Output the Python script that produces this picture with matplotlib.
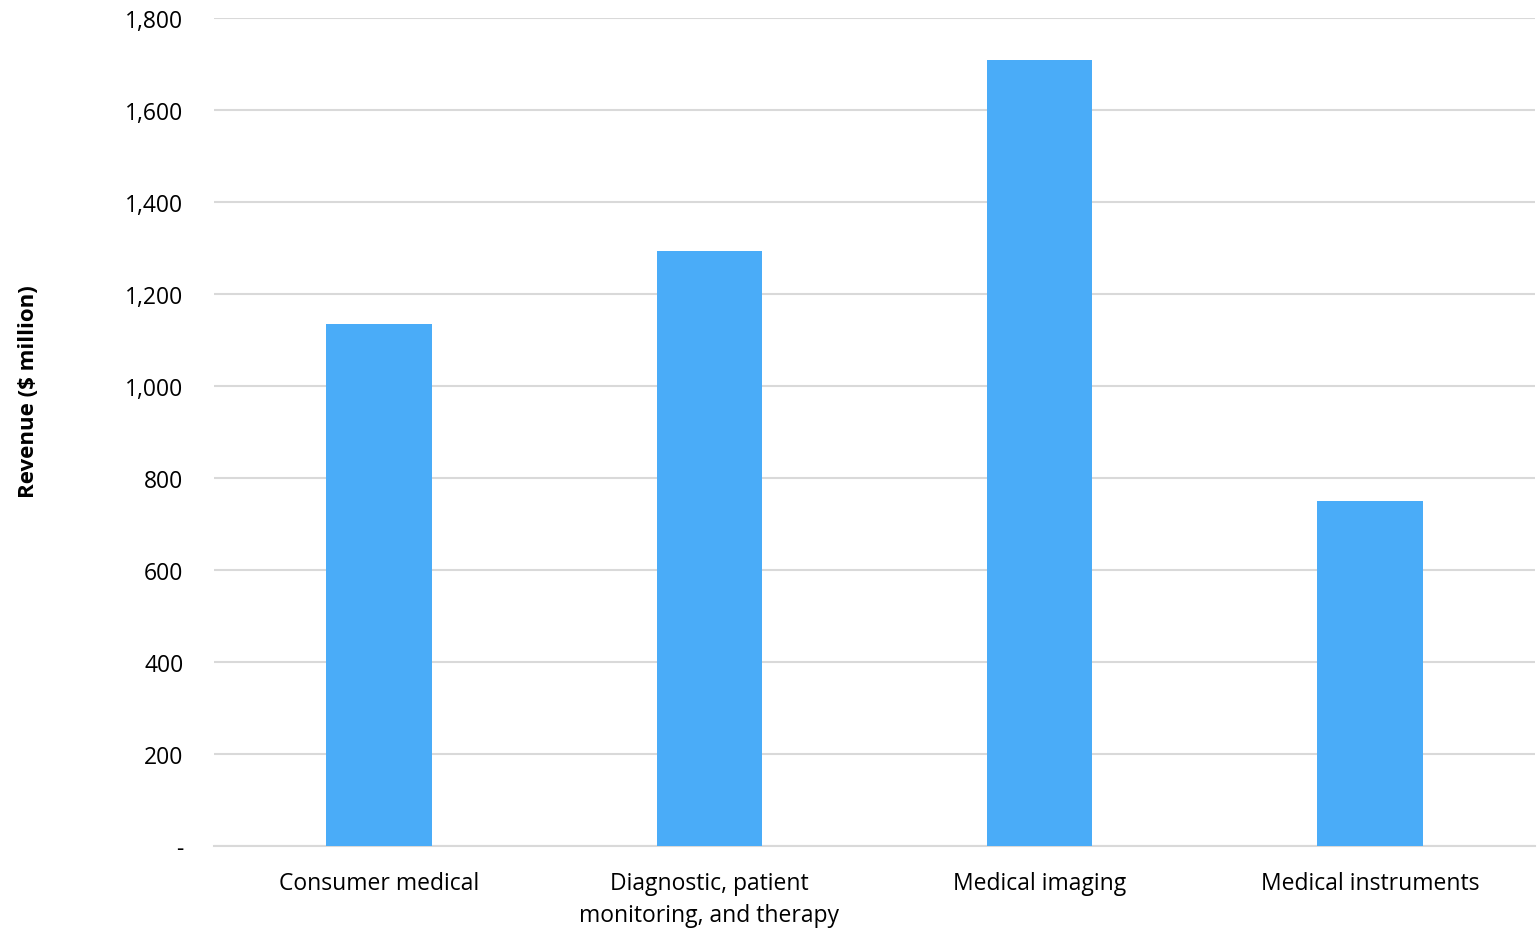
import matplotlib
matplotlib.use("Agg")
import matplotlib.pyplot as plt
from matplotlib.ticker import FuncFormatter

categories = ["Consumer medical", "Diagnostic, patient\nmonitoring, and therapy",
              "Medical imaging", "Medical instruments"]
revenue = [1135, 1293, 1709, 750]
y_ticks = [0, 200, 400, 600, 800, 1000, 1200, 1400, 1600, 1800]

plt.rcParams["font.family"] = ["Open Sans", "DejaVu Sans"]

fig = plt.figure(figsize=(15.37, 9.29), dpi=100)
ax = fig.add_axes([0.1392, 0.0883, 0.8595, 0.8912])

x = range(len(categories))
ax.bar(x, revenue, width=0.32, color="#4AACF8", zorder=3)

ax.set_xlim(-0.5, len(categories) - 0.5)
ax.set_ylim(0, 1800)
ax.set_yticks(y_ticks)
ax.yaxis.set_major_formatter(FuncFormatter(lambda v, p: "-" if v == 0 else f"{int(v):,}"))
ax.set_xticks(list(x))
ax.set_xticklabels(categories, fontsize=16.5, color="#000000", linespacing=1.42)

ax.grid(axis="y", color="#D9D9D9", linewidth=1.5, zorder=0)
for side in ["top", "right", "left"]:
    ax.spines[side].set_visible(False)
ax.spines["bottom"].set_color("#D9D9D9")
ax.spines["bottom"].set_linewidth(1.5)
ax.tick_params(axis="both", length=0)
ax.tick_params(axis="y", pad=22, labelsize=16.5)
ax.tick_params(axis="x", pad=18)

ax.set_ylabel("Revenue ($ million)", fontsize=16, fontweight="bold", labelpad=0)
ax.yaxis.set_label_coords(-0.1325, 0.55)

fig.savefig("out.png", dpi=100)
